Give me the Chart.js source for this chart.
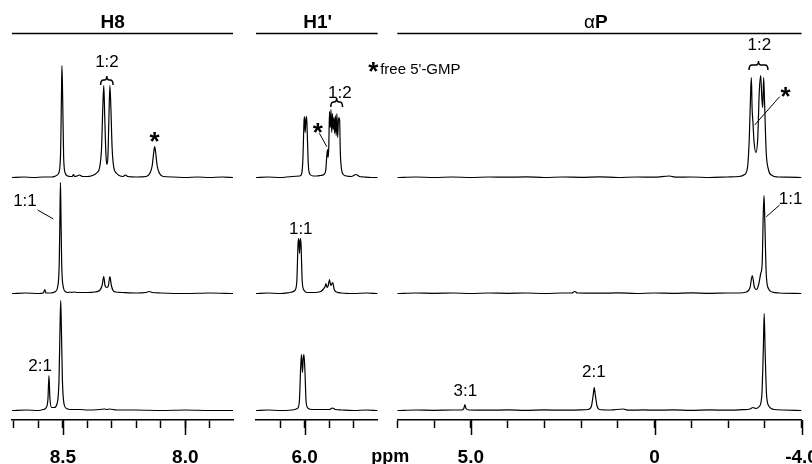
<!DOCTYPE html>
<html>
<head>
<meta charset="utf-8">
<script src="https://cdn.jsdelivr.net/npm/chart.js@4/dist/chart.umd.min.js"></script>
<style>
  html, body { margin: 0; padding: 0; background: #fff; }
  #wrap { position: relative; width: 812px; height: 464px; }
  #wrap canvas { position: absolute; left: 0; top: 0; }
</style>
</head>
<body>
<div id="wrap">
  <canvas id="cH8" width="812" height="464"></canvas>
  <canvas id="cH1" width="812" height="464"></canvas>
  <canvas id="cAP" width="812" height="464"></canvas>
</div>
<script>
// spectra: [ppm, intensity above baseline]
const h8Top = [[8.708,0],[8.66,0.5],[8.62,0],[8.58,0.5],[8.545,0.5],[8.53,1.5],[8.518,4],[8.51,20],[8.506,80],[8.504,112],[8.501,80],[8.497,20],[8.49,4],[8.48,1.5],[8.47,1],[8.462,1],[8.457,3],[8.452,1],[8.442,1.5],[8.432,2.5],[8.42,1],[8.40,1],[8.385,1.5],[8.37,3],[8.36,5],[8.35,10],[8.342,30],[8.337,70],[8.333,92],[8.329,60],[8.324,22],[8.32,13],[8.316,22],[8.312,60],[8.308,92],[8.304,70],[8.299,30],[8.292,10],[8.28,4],[8.27,2],[8.255,1],[8.244,2.5],[8.235,1],[8.2,0.5],[8.16,1],[8.145,4],[8.135,12],[8.129,25],[8.125,31],[8.121,25],[8.115,12],[8.105,4],[8.09,1],[8.05,0.5],[8.0,0],[7.95,0.5],[7.9,0],[7.85,0.5],[7.805,0]];
const h8Mid = [[8.708,0],[8.65,0.5],[8.6,0],[8.58,0.5],[8.574,4],[8.569,0.5],[8.55,0.5],[8.53,2],[8.522,6],[8.515,30],[8.512,80],[8.510,111],[8.508,80],[8.505,30],[8.498,6],[8.49,2],[8.48,1],[8.47,1.5],[8.465,1],[8.455,1.5],[8.44,1],[8.40,1],[8.37,1.5],[8.35,3],[8.34,8],[8.333,17],[8.328,8],[8.32,6],[8.314,8],[8.308,17],[8.302,8],[8.295,3],[8.285,1.5],[8.26,1],[8.2,0.5],[8.16,1],[8.148,2],[8.135,1],[8.1,0.5],[8.0,0],[7.9,0.5],[7.805,0]];
const h8Bot = [[8.708,0],[8.65,0.5],[8.6,0],[8.58,1],[8.568,3],[8.561,12],[8.557,35],[8.553,12],[8.546,3],[8.535,3],[8.525,6],[8.516,30],[8.512,80],[8.509,110],[8.506,80],[8.502,30],[8.495,6],[8.485,2],[8.47,1],[8.43,1],[8.40,0.5],[8.35,1],[8.33,1.5],[8.32,1],[8.31,1.5],[8.28,0.5],[8.2,0.5],[8.1,0],[8.0,0.5],[7.9,0],[7.805,0]];

const h1Top = [[6.198,0],[6.15,0.5],[6.10,0],[6.05,1],[6.02,1.5],[6.012,4],[6.007,20],[6.003,55],[6.001,61],[5.998,45],[5.995,58],[5.992,61],[5.989,40],[5.985,12],[5.978,3],[5.965,1.5],[5.95,1.5],[5.935,2],[5.922,3],[5.914,8],[5.910,22],[5.907,28],[5.905,20],[5.902,30],[5.899,66],[5.896,50],[5.893,68],[5.89,45],[5.887,64],[5.884,48],[5.881,60],[5.878,44],[5.875,62],[5.872,42],[5.869,64],[5.866,40],[5.862,60],[5.858,58],[5.855,25],[5.85,8],[5.843,3],[5.83,1.5],[5.81,1],[5.80,2],[5.793,3],[5.786,2.5],[5.777,1],[5.76,0.5],[5.73,0],[5.703,0]];
const h1Mid = [[6.198,0],[6.15,0.5],[6.1,0],[6.06,1],[6.04,3],[6.032,12],[6.027,50],[6.024,55],[6.021,40],[6.018,55],[6.015,50],[6.01,12],[6.002,3],[5.99,1],[5.96,1],[5.935,2],[5.925,4],[5.917,7],[5.913,10],[5.909,6],[5.904,8],[5.899,14],[5.894,8],[5.886,11],[5.88,4],[5.87,1.5],[5.85,0.5],[5.80,0],[5.75,0.5],[5.703,0]];
const h1Bot = [[6.198,0],[6.15,0.5],[6.1,0],[6.05,0.5],[6.03,2],[6.022,8],[6.016,45],[6.013,56],[6.009,38],[6.006,52],[6.003,56],[5.999,40],[5.994,8],[5.985,2],[5.97,1],[5.93,1],[5.90,1],[5.887,2.5],[5.875,1],[5.85,0.5],[5.8,0],[5.75,0.5],[5.703,0]];

const apTop = [[7.0,0],[6.5,0.5],[6.0,0],[5.5,0.5],[5.0,0],[4.5,0.5],[4.0,0.3],[3.5,0.6],[3.0,0],[2.5,0.5],[2.0,0.2],[1.5,0.6],[1.0,0],[0.5,0.5],[0,0.3],[-0.4,1.5],[-0.6,0.3],[-1.0,0.5],[-1.5,0],[-2.0,0.5],[-2.3,1],[-2.45,3],[-2.53,10],[-2.58,40],[-2.62,90],[-2.636,100],[-2.655,70],[-2.68,54],[-2.71,35],[-2.76,25],[-2.81,40],[-2.85,85],[-2.89,102],[-2.92,80],[-2.945,70],[-2.97,100],[-2.995,75],[-3.04,25],[-3.1,8],[-3.2,2],[-3.35,0.5],[-3.6,0.3],[-4.0,0]];
const apMid = [[7.0,0],[6.5,0.5],[6.0,0.2],[5.5,0.5],[5.0,0],[4.5,0.5],[4.0,0.2],[3.5,0.5],[3.0,0],[2.5,0.5],[2.25,0.5],[2.17,2],[2.1,0.5],[1.5,0.3],[1.0,0.6],[0.5,0],[0,0.5],[-0.5,0.2],[-1.0,0.6],[-1.5,0.2],[-2.0,0.5],[-2.3,0.5],[-2.5,1.5],[-2.6,6],[-2.66,18],[-2.72,6],[-2.78,4],[-2.84,10],[-2.89,20],[-2.93,30],[-2.96,80],[-2.98,98],[-3.0,75],[-3.04,20],[-3.1,5],[-3.2,1.5],[-3.4,0.5],[-4.0,0]];
const apBot = [[7.0,0],[6.5,0.5],[6.0,0.2],[5.5,0.5],[5.25,0.5],[5.19,2],[5.16,6],[5.13,2],[5.05,0.5],[4.5,0.3],[4.0,0.6],[3.5,0.2],[3.0,0.6],[2.5,0.3],[2.0,0.6],[1.8,1],[1.72,4],[1.67,15],[1.64,23],[1.61,15],[1.56,4],[1.5,1],[1.2,0.5],[0.86,1.5],[0.7,0.3],[0.3,0.6],[0,0.3],[-0.5,0.6],[-1.0,0.2],[-1.5,0.6],[-2.0,0.3],[-2.4,0.8],[-2.6,1.5],[-2.68,3],[-2.76,2],[-2.85,4],[-2.92,15],[-2.96,60],[-2.985,97],[-3.01,60],[-3.05,15],[-3.12,4],[-3.25,1],[-3.5,0.5],[-4.0,0]];

// axes
const h8Major = [8.5, 8.0];
const h8MajorLabels = ['8.5', '8.0'];
const h1Major = [6.0];
const h1MajorLabels = ['6.0'];
const apMajor = [5, 0, -4];
const apMajorLabels = ['5.0', '0', '-4.0'];

const FONT = "'Liberation Sans', Arial, sans-serif";
const baselineOffsets = [233, 117, 0]; // top, middle, bottom trace

const panels = [
  {
    id: 'cH8', left: 12, right: 233, min: 7.805, max: 8.708, step: 0.1,
    spectra: [h8Top, h8Mid, h8Bot], major: h8Major, majorLabels: h8MajorLabels,
    title: { text: 'H8', x: 8.297 },
    labels: [
      { text: '1:2', x: 8.320, y: 61 },
      { text: '1:1', x: 8.655, y: 200 },
      { text: '2:1', x: 8.593, y: 364.7 }
    ],
    stars: [{ x: 8.125, y: 136.5 }],
    leaders: [{ x1: 8.603, y1: 210, x2: 8.539, y2: 219 }],
    braces: [{ x1: 8.346, x2: 8.295, y: 80 }]
  },
  {
    id: 'cH1', left: 256, right: 377.7, min: 5.703, max: 6.198, step: 0.1,
    spectra: [h1Top, h1Mid, h1Bot], major: h1Major, majorLabels: h1MajorLabels,
    title: { text: "H1'", x: 5.947 },
    labels: [
      { text: '1:2', x: 5.857, y: 91.7 },
      { text: '1:1', x: 6.016, y: 228 }
    ],
    stars: [{ x: 5.947, y: 128.3 }, { x: 5.721, y: 66.7 }],
    leaders: [{ x1: 5.940, y1: 133.3, x2: 5.910, y2: 146.7 }],
    braces: [{ x1: 5.894, x2: 5.846, y: 102 }],
    note: { text: "free 5'-GMP", x: 5.693, y: 73.5 },
    unit: { text: 'ppm', x: 5.652 }
  },
  {
    id: 'cAP', left: 397.3, right: 801.5, min: -4.0, max: 7.0, step: 1,
    spectra: [apTop, apMid, apBot], major: apMajor, majorLabels: apMajorLabels,
    title: { text: 'αP', x: 1.595 },
    labels: [
      { text: '1:2', x: -2.853, y: 44 },
      { text: '1:1', x: -3.704, y: 198 },
      { text: '2:1', x: 1.649, y: 370.7 },
      { text: '3:1', x: 5.147, y: 390.3 }
    ],
    stars: [{ x: -3.568, y: 91.7 }],
    leaders: [
      { x1: -2.726, y1: 125, x2: -3.405, y2: 96.7 },
      { x1: -3.043, y1: 216.7, x2: -3.405, y2: 205 }
    ],
    braces: [{ x1: -2.571, x2: -3.087, y: 65 }]
  }
];

function centerText(ctx, text, x, y, font) {
  ctx.font = font;
  ctx.textAlign = 'center';
  ctx.textBaseline = 'alphabetic';
  const m = ctx.measureText(text);
  ctx.fillText(text, x, y + (m.actualBoundingBoxAscent - m.actualBoundingBoxDescent) / 2);
}

function drawBrace(ctx, xa, xb, y) {
  const l = Math.min(xa, xb), r = Math.max(xa, xb), m = (l + r) / 2;
  ctx.beginPath();
  ctx.moveTo(l, y + 5);
  ctx.quadraticCurveTo(l, y, l + 3, y);
  ctx.lineTo(m - 2.5, y);
  ctx.quadraticCurveTo(m, y, m, y - 4);
  ctx.quadraticCurveTo(m, y, m + 2.5, y);
  ctx.lineTo(r - 3, y);
  ctx.quadraticCurveTo(r, y, r, y + 5);
  ctx.stroke();
}

function annotPlugin(p) {
  return {
    id: 'annot_' + p.id,
    afterDraw(chart) {
      const ctx = chart.ctx, xs = chart.scales.x, area = chart.chartArea;
      const px = v => xs.getPixelForValue(v);
      ctx.save();
      ctx.fillStyle = '#000';
      ctx.strokeStyle = '#000';

      // long ticks at labelled values
      ctx.lineWidth = 1.5;
      p.major.forEach(v => {
        const x = Math.round(px(v)) + 0.5;
        ctx.beginPath();
        ctx.moveTo(x, area.bottom);
        ctx.lineTo(x, area.bottom + 15);
        ctx.stroke();
      });

      // header text + rule
      if (p.title.text === 'αP') {
        ctx.textBaseline = 'alphabetic';
        ctx.textAlign = 'left';
        ctx.font = '19px ' + FONT;
        const wa = ctx.measureText('α').width;
        ctx.font = 'bold 19px ' + FONT;
        const mP = ctx.measureText('P');
        const x0 = px(p.title.x) - (wa + mP.width) / 2;
        const base = 21.7 + mP.actualBoundingBoxAscent / 2;
        ctx.font = '19px ' + FONT;
        ctx.fillText('α', x0, base);
        ctx.font = 'bold 19px ' + FONT;
        ctx.fillText('P', x0 + wa, base);
      } else {
        centerText(ctx, p.title.text, px(p.title.x), 21.7, 'bold 19px ' + FONT);
      }
      ctx.lineWidth = 1.6;
      ctx.beginPath();
      ctx.moveTo(area.left, 33.5);
      ctx.lineTo(area.right, 33.5);
      ctx.stroke();

      // ratio labels
      p.labels.forEach(l => centerText(ctx, l.text, px(l.x), l.y, '17px ' + FONT));
      p.stars.forEach(s => centerText(ctx, '*', px(s.x), s.y, 'bold 26px ' + FONT));

      ctx.lineWidth = 1;
      p.leaders.forEach(l => {
        ctx.beginPath();
        ctx.moveTo(px(l.x1), l.y1);
        ctx.lineTo(px(l.x2), l.y2);
        ctx.stroke();
      });
      ctx.lineWidth = 1.5;
      p.braces.forEach(b => drawBrace(ctx, px(b.x1), px(b.x2), b.y));

      if (p.note) {
        ctx.font = '15px ' + FONT;
        ctx.textAlign = 'left';
        ctx.textBaseline = 'alphabetic';
        ctx.fillText(p.note.text, px(p.note.x), p.note.y);
      }
      if (p.unit) {
        ctx.font = 'bold 18px ' + FONT;
        ctx.textAlign = 'center';
        ctx.textBaseline = 'alphabetic';
        ctx.fillText(p.unit.text, px(p.unit.x), 462);
      }
      ctx.restore();
    }
  };
}

function makePanel(p) {
  const datasets = p.spectra.map((s, i) => ({
    data: s.map(([x, y]) => ({ x, y: y + baselineOffsets[i] })),
    borderColor: '#000',
    borderWidth: 1.2,
    pointRadius: 0,
    fill: false,
    cubicInterpolationMode: 'monotone'
  }));
  return new Chart(document.getElementById(p.id), {
    type: 'line',
    data: { datasets },
    options: {
      responsive: false,
      animation: false,
      events: [],
      layout: { padding: { left: p.left, right: 812 - p.right, top: 40, bottom: 0 } },
      plugins: { legend: { display: false }, tooltip: { enabled: false } },
      scales: {
        x: {
          type: 'linear',
          reverse: true,
          min: p.min,
          max: p.max,
          border: { display: true, color: '#000', width: 1.6 },
          grid: { drawOnChartArea: false, drawTicks: true, tickLength: 8, tickColor: '#000', tickWidth: 1.5 },
          ticks: {
            stepSize: p.step,
            includeBounds: false,
            autoSkip: false,
            maxRotation: 0,
            minRotation: 0,
            padding: 18.5,
            color: '#000',
            font: { family: FONT, size: 19, weight: 'bold' },
            callback: v => {
              const k = p.major.findIndex(m => Math.abs(m - v) < 1e-6);
              return k >= 0 ? p.majorLabels[k] : '';
            }
          },
          afterFit: s => { s.height = 44; s.paddingLeft = 0; s.paddingRight = 0; }
        },
        y: { display: false, min: -9.5, max: 370.5 }
      }
    },
    plugins: [annotPlugin(p)]
  });
}

panels.forEach(makePanel);
</script>
</body>
</html>
